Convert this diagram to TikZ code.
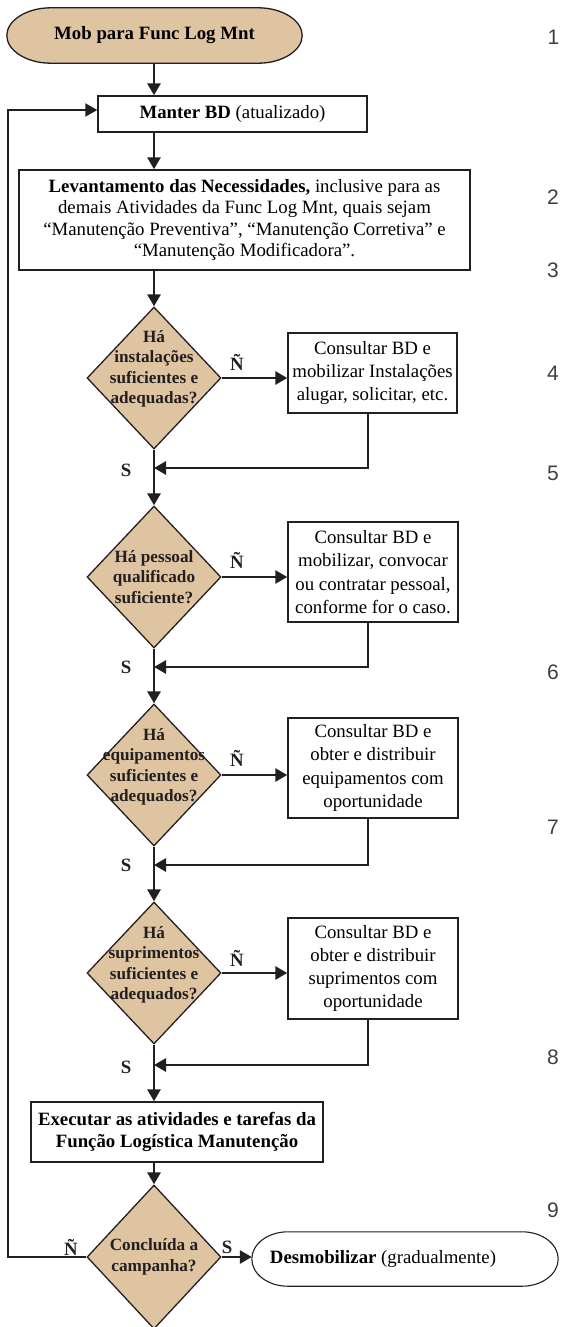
\documentclass[tikz,border=0pt]{standalone}
\usepackage{fontspec}
\setmainfont{Liberation Serif}
\newfontfamily\digitfont{Liberation Sans}
\usetikzlibrary{shapes.geometric,arrows.meta,backgrounds}
\definecolor{tanfill}{HTML}{DFC4A1}
\definecolor{ink}{HTML}{231F20}
% elliptical-ended terminal outline around a rectangle node
\newcommand{\termshape}[3]{%
 ([xshift=#2]#1.north west) -- ([xshift=-#2]#1.north east)
 .. controls ([xshift={-0.448*#2}]#1.north east) and ([yshift=#3]#1.east) .. (#1.east)
 .. controls ([yshift=-#3]#1.east) and ([xshift={-0.448*#2}]#1.south east) .. ([xshift=-#2]#1.south east)
 -- ([xshift=#2]#1.south west)
 .. controls ([xshift={0.448*#2}]#1.south west) and ([yshift=-#3]#1.west) .. (#1.west)
 .. controls ([yshift=#3]#1.west) and ([xshift={0.448*#2}]#1.north west) .. ([xshift=#2]#1.north west) -- cycle}
\begin{document}
\begin{tikzpicture}[x=1pt,y=-1pt,
  conn/.style={draw=ink, line width=2.8pt, -{Triangle[length=12pt,width=13pt]}},
  box/.style={draw=ink, line width=1.4pt, fill=white, rectangle, inner sep=0pt, align=center,
              font=\fontsize{18.8}{23.3}\selectfont},
  wide/.style={box, font=\fontsize{18.8}{21.5}\selectfont},
  termbox/.style={rectangle, inner sep=0pt, draw=none, font=\fontsize{18.8}{22}\selectfont},
  dia/.style={diamond, draw=ink, line width=1.3pt, fill=tanfill, inner sep=0pt,
              minimum width=134pt, minimum height=142pt},
  diatext/.style={align=center, inner sep=0pt, font=\bfseries\fontsize{17.2}{20.5}\selectfont, text=ink},
  yn/.style={inner sep=0pt, font=\bfseries\fontsize{18.8}{20}\selectfont, text=ink},
  digit/.style={anchor=west, inner sep=0pt, font=\digitfont\fontsize{21}{21}\selectfont, text=black!75}
]
\useasboundingbox (0,0) rectangle (560,1327);

% terminals
\node[termbox, minimum width=295pt, minimum height=55pt] (start) at (154.5,35.5) {\textbf{Mob para Func Log Mnt}};
\node[termbox, minimum width=306pt, minimum height=54pt] (desm) at (405,1259) {};
\node[termbox] (desmt) at (383,1259) {\textbf{Desmobilizar} (gradualmente)};
\begin{scope}[on background layer]
  \draw[draw=ink, line width=1.3pt, fill=tanfill] \termshape{start}{44}{15};
  \draw[draw=ink, line width=1.1pt, fill=white] \termshape{desm}{36}{15};
\end{scope}

% boxes
\node[box, minimum width=269pt, minimum height=36pt] (manter) at (232.5,114) {\textbf{Manter BD} (atualizado)};
\node[wide, minimum width=451pt, minimum height=100pt] (lev) at (244.5,220)
  {\textbf{Levantamento das Necessidades,} inclusive para as\\
   demais Atividades da Func Log Mnt, quais sejam\\
   “Manutenção Preventiva”, “Manutenção Corretiva” e\\
   “Manutenção Modificadora”.};

% decisions
\node[dia] (d1) at (154,378) {};
\node[diatext] (d1t) at ([yshift=9pt]d1.center) {Há\\instalações\\suficientes e\\adequadas?};
\node[dia] (d2) at (154,577) {};
\node[diatext] (d2t) at (d2.center) {Há pessoal\\qualificado\\suficiente?};
\node[dia] (d3) at (154,775) {};
\node[diatext] (d3t) at ([yshift=8pt]d3.center) {Há\\equipamentos\\suficientes e\\adequados?};
\node[dia] (d4) at (154,973) {};
\node[diatext] (d4t) at ([yshift=8pt]d4.center) {Há\\suprimentos\\suficientes e\\adequados?};
\node[dia, minimum height=144pt] (d5) at (154,1257) {};
\node[diatext] (d5t) at (d5.center) {Concluída a\\campanha?};

% process boxes
\node[box, minimum width=169pt, minimum height=80pt] (p1) at (372.5,373)
  {Consultar BD e\\mobilizar Instalações\\alugar, solicitar, etc.};
\node[box, minimum width=170pt, minimum height=100pt] (p2) at (373,572)
  {Consultar BD e\\mobilizar, convocar\\ou contratar pessoal,\\conforme for o caso.};
\node[box, minimum width=170pt, minimum height=100pt] (p3) at (373,768)
  {Consultar BD e\\obter e distribuir\\equipamentos com\\oportunidade};
\node[box, minimum width=170pt, minimum height=101pt] (p4) at (373,968.5)
  {Consultar BD e\\obter e distribuir\\suprimentos com\\oportunidade};
\node[box, font=\bfseries\fontsize{18.8}{21.5}\selectfont, minimum width=292pt, minimum height=60pt] (exec) at (177,1132)
  {Executar as atividades e tarefas da\\Função Logística Manutenção};

% labels
\node[yn] (n1) at (237,362) {Ñ};
\node[yn] (n2) at (237,560) {Ñ};
\node[yn] (n3) at (237,758) {Ñ};
\node[yn] (n4) at (237,958) {Ñ};
\node[yn] (n5) at (71,1247) {Ñ};
\node[yn] (s1) at (126,470) {S};
\node[yn] (s2) at (126,667) {S};
\node[yn] (s3) at (126,865) {S};
\node[yn] (s4) at (126,1067) {S};
\node[yn] (s5) at (227,1247) {S};

% junction coordinates
\coordinate (j1) at (368,468);
\coordinate (j2) at (368,667);
\coordinate (j3) at (368,865);
\coordinate (j4) at (368,1065);
\coordinate (lp) at (8,110);

% connectors
\draw[conn] (start.south -| d1) -- (manter.north -| d1);
\draw[conn] (manter.south -| d1) -- (lev.north -| d1);
\draw[conn] (lev.south -| d1) -- (d1.north);
\draw[conn] (d1.east) -- (d1.east -| p1.west);
\draw[conn] (p1.south -| j1) -- (j1) -- (j1 -| d1);
\draw[conn] (d1.south) -- (d2.north);
\draw[conn] (d2.east) -- (d2.east -| p2.west);
\draw[conn] (p2.south -| j2) -- (j2) -- (j2 -| d2);
\draw[conn] (d2.south) -- (d3.north);
\draw[conn] (d3.east) -- (d3.east -| p3.west);
\draw[conn] (p3.south -| j3) -- (j3) -- (j3 -| d3);
\draw[conn] (d3.south) -- (d4.north);
\draw[conn] (d4.east) -- (d4.east -| p4.west);
\draw[conn] (p4.south -| j4) -- (j4) -- (j4 -| d4);
\draw[conn] (d4.south) -- (exec.north -| d4);
\draw[conn] (exec.south -| d5) -- (d5.north);
\draw[conn] (d5.east) -- (d5.east -| desm.west);
\draw[conn, line width=2.3pt] (d5.west) -- (d5.west -| lp) -- (lp) -- (lp -| manter.west);

% margin numbers
\node[digit] (m1) at (547.5,37) {1};
\node[digit] (m2) at (547,197) {2};
\node[digit] (m3) at (547,270) {3};
\node[digit] (m4) at (547,373) {4};
\node[digit] (m5) at (547,473) {5};
\node[digit] (m6) at (547,672) {6};
\node[digit] (m7) at (547,827) {7};
\node[digit] (m8) at (547,1057) {8};
\node[digit] (m9) at (547,1210) {9};
\end{tikzpicture}
\end{document}
